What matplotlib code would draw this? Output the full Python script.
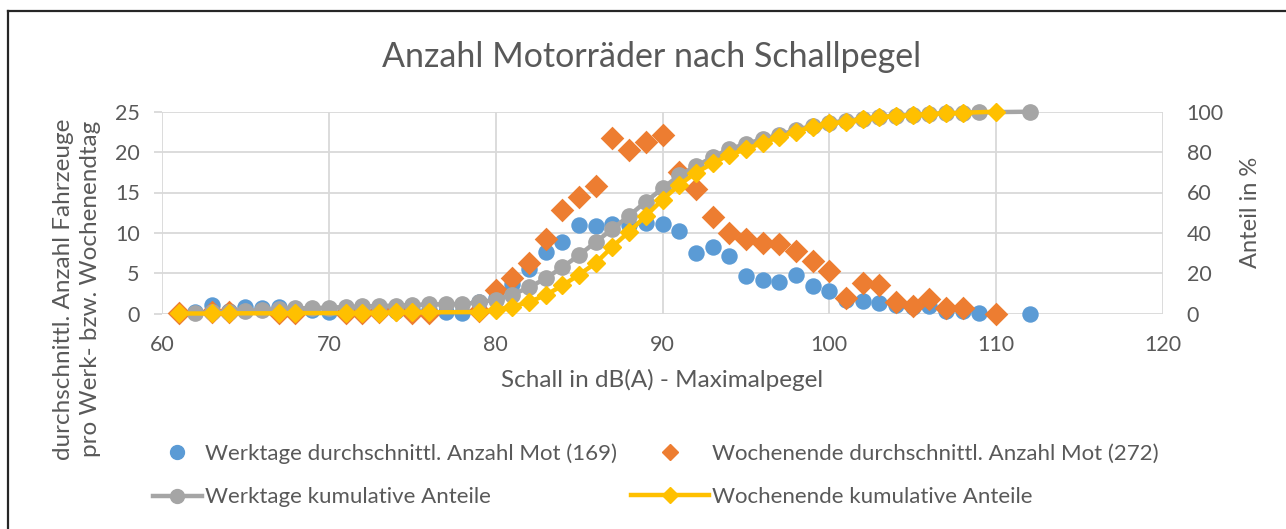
import matplotlib.pyplot as plt
from matplotlib.lines import Line2D

# Werktage
wt_x = list(range(62, 110)) + [112]
wt_anzahl = [0.25, 1.05, 0.3, 0.8, 0.65, 0.85, 0.45, 0.45, 0.2, 0.5,
             0.5, 0.45, 0.35, 0.45, 0.5, 0.25, 0.1, 1.5, 1.9, 3.7,
             5.5, 7.6, 8.9, 11.0, 10.9, 11.1, 11.0, 11.2, 11.1, 10.2,
             7.5, 8.3, 7.2, 4.7, 4.2, 3.9, 4.8, 3.4, 2.8, 1.7,
             1.6, 1.3, 1.1, 0.8, 0.9, 0.3, 0.3, 0.1, 0.0]
wt_kum = [0.2, 0.8, 1.0, 1.4, 1.8, 2.3, 2.6, 2.8, 3.0, 3.3,
          3.6, 3.8, 4.0, 4.3, 4.6, 4.7, 4.8, 5.6, 7.0, 9.5,
          13.0, 17.5, 23.0, 29.0, 35.5, 42.0, 48.5, 55.5, 62.0, 68.5,
          73.0, 77.5, 81.5, 84.0, 86.5, 88.5, 91.0, 93.0, 94.5, 95.5,
          96.5, 97.3, 98.0, 98.5, 99.0, 99.2, 99.5, 99.7, 100.0]

# Wochenende
we_x = [61, 63, 64, 67, 68, 71, 72, 73, 74, 75, 76, 79] + list(range(80, 109)) + [110]
we_anzahl = [0.1, 0.2, 0.2, 0.1, 0.1, 0.1, 0.1, 0.2, 0.4, 0.1, 0.1, 0.3,
             2.9, 4.4, 6.3, 9.3, 12.8, 14.5, 15.8, 21.8, 20.3, 21.3,
             22.1, 17.5, 15.4, 12.0, 10.0, 9.2, 8.8, 8.6, 7.7, 6.5,
             5.3, 2.0, 3.8, 3.5, 1.5, 1.0, 1.8, 0.7, 0.7, 0.0]
we_kum = [0.1, 0.1, 0.2, 0.2, 0.3, 0.3, 0.4, 0.5, 0.6, 0.7, 0.7, 0.8,
          1.9, 3.5, 5.8, 9.2, 14.0, 19.3, 25.1, 33.2, 40.6, 48.4,
          56.5, 63.7, 69.8, 74.4, 78.6, 81.4, 84.7, 87.3, 90.1, 92.6,
          94.2, 95.0, 96.3, 97.3, 97.9, 98.3, 98.9, 99.2, 99.5, 100.0]

labels = ['Werktage durchschnittl. Anzahl Mot (169)',
          'Wochenende durchschnittl. Anzahl Mot (272)',
          'Werktage kumulative Anteile',
          'Wochenende kumulative Anteile']

BLUE, ORANGE, GRAY, YELLOW = '#5B9BD5', '#ED7D31', '#A5A5A5', '#FFC000'
TXT = '#595959'
GRID = '#D9D9D9'

plt.rcParams['font.family'] = ['Lato', 'DejaVu Sans']

fig = plt.figure(figsize=(12.86, 5.29), dpi=100)
ax = fig.add_axes([162 / 1286, 1 - 313.7 / 529, 1001 / 1286, 202 / 529])
ax2 = ax.twinx()

ax.scatter(wt_x, wt_anzahl, s=140, color=BLUE, marker='o', linewidths=0, zorder=3, clip_on=False)
ax.scatter(we_x, we_anzahl, s=145, color=ORANGE, marker='D', linewidths=0, zorder=3, clip_on=False)
ax2.plot(wt_x, wt_kum, color=GRAY, lw=3.2, marker='o', ms=11, clip_on=False)
ax2.plot(we_x, we_kum, color=YELLOW, lw=3.2, marker='D', ms=9.5, clip_on=False)

ax.set_xlim(60, 120)
ax.set_ylim(0, 25)
ax2.set_ylim(0, 100)
ax.set_xticks(range(60, 121, 10))
ax.set_yticks(range(0, 26, 5))
ax2.set_yticks(range(0, 101, 20))

ax.grid(True, color=GRID, lw=1.3)
ax.set_axisbelow(True)
for a in (ax, ax2):
    for s in a.spines.values():
        s.set_visible(False)
ax.tick_params(axis='y', length=6, color=GRID, width=1.3, pad=10, labelsize=15.5, labelcolor=TXT)
ax.tick_params(axis='x', length=0, pad=15, labelsize=15.5, labelcolor=TXT)
ax2.tick_params(axis='y', length=0, pad=17, labelsize=15.5, labelcolor=TXT)

ax.set_xlabel('Schall in dB(A) - Maximalpegel', fontsize=17.5, color=TXT, labelpad=10)
ax2.set_ylabel('Anteil in %', fontsize=17, color=TXT, labelpad=12)
fig.text(77 / 1286, 1 - 289 / 529, 'durchschnittl. Anzahl Fahrzeuge\npro Werk- bzw. Wochenendtag',
         rotation=90, ha='center', va='center', fontsize=17.5, color=TXT, linespacing=1.3)

fig.text(652 / 1286, 1 - 57 / 529, 'Anzahl Motorräder nach Schallpegel',
         ha='center', va='center', fontsize=24.5, color=TXT)

# Legende: zwei Spalten mit unterschiedlich langen Symbolen
col1 = [Line2D([], [], ls='none', marker='o', ms=10, color=BLUE),
        Line2D([], [], color=GRAY, lw=3.2, marker='o', ms=10)]
col2 = [Line2D([], [], ls='none', marker='D', ms=8, color=ORANGE),
        Line2D([], [], color=YELLOW, lw=3.2, marker='D', ms=8)]
for hs, labs, x0, hl in ((col1, [labels[0], labels[2]], 153, 2.2),
                         (col2, [labels[1], labels[3]], 631, 3.5)):
    leg = fig.legend(hs, labs, loc='center left', bbox_to_anchor=(x0 / 1286, 1 - 475.5 / 529),
                     frameon=False, fontsize=16, handlelength=hl, handletextpad=0.15,
                     labelspacing=1.05, borderaxespad=0, borderpad=0)
    for t in leg.get_texts():
        t.set_color(TXT)

# Rahmen um das Diagramm
fig.add_artist(Line2D([8 / 1286, 8 / 1286], [-0.05, 1 - 11 / 529], color='#262626', lw=1.6))
fig.add_artist(Line2D([8 / 1286, 1.05], [1 - 11 / 529, 1 - 11 / 529], color='#262626', lw=1.6))

fig.savefig('out.png', dpi=100)
